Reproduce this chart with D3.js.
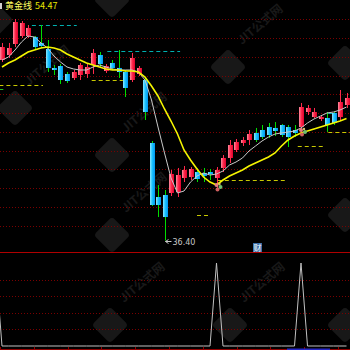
<!DOCTYPE html>
<html>
<head>
<meta charset="utf-8">
<script src="https://cdn.jsdelivr.net/npm/d3@7"></script>
<style>
  html, body { margin: 0; padding: 0; background: #000; }
  svg { display: block; }
</style>
</head>
<body>
<div class="chart"></div>
<script>
// bar data (index 0 = left-most bar)
var opens = [63.12, 63.86, 65.49, 66.67, 66.67, 66.52, 65.64, 64.75, 61.94, 62.23,
  61.05, 60.46, 60.90, 61.05, 62.38, 63.86, 61.49, 62.68, 61.94, 61.34,
  60.16, 61.05, 60.16, 50.84, 42.84, 43.14, 43.44, 43.58, 45.66, 45.80,
  46.54, 46.40, 46.54, 45.66, 47.14, 48.62, 49.80, 50.84, 51.28, 52.32,
  52.76, 53.20, 53.06, 53.50, 53.20, 52.76, 53.20, 55.42, 54.68, 54.39,
  54.54, 55.28, 54.68, 56.46];
var closes = [65.04, 64.90, 68.74, 68.60, 67.86, 65.04, 65.19, 61.94, 61.64, 60.16,
  60.01, 61.34, 62.38, 62.08, 64.16, 62.53, 62.23, 61.94, 61.34, 58.98,
  63.42, 61.94, 55.42, 41.66, 41.66, 39.88, 46.25, 46.10, 46.84, 46.99,
  45.51, 45.95, 46.25, 46.84, 48.62, 50.54, 50.98, 51.28, 52.17, 51.28,
  51.72, 52.02, 52.61, 52.02, 51.72, 52.32, 56.16, 56.02, 55.42, 54.68,
  53.50, 53.80, 56.90, 57.50];
var highs = [65.64, 65.64, 69.19, 68.89, 68.30, 66.67, 68.30, 66.08, 62.38, 62.53,
  61.34, 61.64, 62.68, 62.53, 64.75, 64.30, 62.53, 63.12, 64.60, 61.64,
  64.16, 62.23, 60.46, 51.13, 44.62, 43.88, 46.84, 47.14, 47.43, 47.28,
  47.14, 47.14, 46.99, 47.28, 49.06, 51.28, 51.43, 51.72, 52.76, 53.06,
  53.50, 53.80, 53.94, 53.65, 53.50, 53.50, 56.76, 56.46, 56.02, 54.98,
  55.42, 55.42, 58.68, 58.24];
var lows = [62.82, 63.42, 65.04, 66.38, 66.38, 64.75, 64.90, 61.34, 60.90, 59.57,
  59.72, 60.16, 60.16, 60.46, 61.05, 61.94, 61.20, 61.64, 60.46, 57.64,
  59.86, 60.75, 54.24, 41.51, 39.88, 36.40, 42.99, 42.84, 45.06, 45.36,
  45.06, 45.06, 45.36, 44.18, 46.54, 47.88, 49.50, 50.39, 50.54, 50.98,
  51.43, 51.58, 51.87, 51.72, 50.24, 51.72, 52.32, 54.98, 54.54, 54.09,
  52.46, 53.50, 54.24, 56.02];

// thin white line and the yellow "黄金线"
var whiteLine = [63.12, 63.56, 64.60, 65.78, 66.67, 66.52, 65.64, 64.90, 63.71, 62.82,
  62.08, 61.79, 61.64, 61.64, 62.08, 62.38, 62.08, 61.79, 61.64, 61.64,
  61.64, 61.34, 60.16, 57.20, 53.20, 49.36, 45.66, 43.44, 43.73, 45.06,
  45.95, 46.40, 46.10, 46.25, 46.69, 47.58, 48.02, 48.62, 49.65, 50.39,
  51.13, 51.72, 52.17, 52.32, 52.46, 52.61, 53.06, 53.80, 54.39, 54.83,
  55.28, 55.42, 55.72, 56.16];
var goldLine = [62.08, 62.68, 63.12, 63.71, 64.30, 64.60, 64.90, 65.04, 64.90, 64.60,
  64.01, 63.56, 63.12, 62.68, 62.38, 62.08, 61.79, 61.64, 61.64, 61.49,
  61.49, 61.34, 60.60, 59.27, 57.79, 55.87, 54.09, 52.17, 49.80, 48.32,
  46.99, 45.80, 45.06, 44.62, 45.36, 45.95, 46.40, 46.84, 47.43, 47.88,
  48.32, 48.76, 49.36, 50.39, 51.28, 51.87, 52.32, 52.61, 52.91, 53.20,
  53.50, 53.80, 54.09, 54.47];

// support / pressure levels: price and the bar span they cover
var cyanLevels = [
  { price: 68.30, from: 4.6, to: 11.5 },
  { price: 64.45, from: 16.2, to: 27.4 },
  { price: 55.28, from: 50.2, to: 51.5 }
];
var yellowLevels = [
  { price: 59.42, from: -0.4, to: 6.3 },
  { price: 60.16, from: 13.8, to: 18.6 },
  { price: 40.18, from: 30.0, to: 31.7 },
  { price: 45.36, from: 33.2, to: 43.5 },
  { price: 50.39, from: 45.5, to: 49.7 },
  { price: 52.46, from: 50.2, to: 53.6 }
];
var greenLevels = [{ price: 58.83, from: -0.4, to: 0.2 }];

// lower panel signal, first value is the bar just off the left edge
var signalStart = -1;
var signal = [1,
  0, 0, 0, 0, 0, 0, 0, 0, 0, 0,
  0, 0, 0, 0, 0, 0, 0, 0, 0, 0,
  0, 0, 0, 0, 0, 0, 0, 0, 0, 0,
  0, 0, 0, 1, 0, 0, 0, 0, 0, 0,
  0, 0, 0, 0, 0, 0, 1, 0, 0, 0,
  0, 0, 0, 0];

var titleName = "黄金线";
var titleValue = "54.47";
var lowLabel = "36.40";
var watermarkText = "JIT公式网";

var width = 350;
var height = 350;

var svg = d3
  .select(".chart")
  .append("svg")
  .attr("width", width)
  .attr("height", height)
  .style("background", "#000");

var defs = svg.append("defs");
var upGrad = defs.append("linearGradient").attr("id", "upGrad");
upGrad.append("stop").attr("offset", "0%").attr("stop-color", "#ff90a4");
upGrad.append("stop").attr("offset", "45%").attr("stop-color", "#ff2a4c");
upGrad.append("stop").attr("offset", "100%").attr("stop-color", "#e0002c");
var downGrad = defs.append("linearGradient").attr("id", "downGrad");
downGrad.append("stop").attr("offset", "0%").attr("stop-color", "#8ee8ff");
downGrad.append("stop").attr("offset", "45%").attr("stop-color", "#1cc4ff");
downGrad.append("stop").attr("offset", "100%").attr("stop-color", "#0096f0");

// scales
var x = d3.scaleLinear().domain([0, 53]).range([2, 346.5]);
var y = d3.scaleLinear().domain([72, 35]).range([0, 250]);
var gridY = d3.scaleLinear().domain([0, 13]).range([0.5, 244.5]);
var yLow = d3.scaleLinear().domain([0, 1]).range([346, 263]);

// faint watermark tiles
var wm = svg.append("g").attr("class", "watermark");
[[15, 108], [112, 155], [228, 67], [345, 63], [112, 235], [345, 215],
 [110, 325], [230, 325], [345, 325], [-5, 20], [112, 0]].forEach(function (p) {
  var g = wm.append("g").attr("transform", "translate(" + p[0] + "," + p[1] + ")");
  g.append("rect")
    .attr("x", -13).attr("y", -13).attr("width", 26).attr("height", 26)
    .attr("rx", 4)
    .attr("transform", "rotate(45)")
    .attr("fill", "#181818");
  g.append("text")
    .attr("transform", "translate(14,-22) rotate(-40)")
    .attr("font-family", "Noto Sans CJK SC")
    .attr("font-size", 12)
    .attr("font-weight", "bold")
    .attr("fill", "#191919")
    .text(watermarkText);
});

// dotted grid
svg.append("g")
  .selectAll("line")
  .data(d3.range(1, 13))
  .enter()
  .append("line")
  .attr("x1", 0).attr("x2", width)
  .attr("y1", (d) => Math.round(gridY(d)) + 0.5)
  .attr("y2", (d) => Math.round(gridY(d)) + 0.5)
  .attr("stroke", "#7a0000")
  .attr("stroke-dasharray", "1,2");

svg.append("g")
  .selectAll("line")
  .data([0.2, 0.4, 0.6, 0.8])
  .enter()
  .append("line")
  .attr("x1", 0).attr("x2", width)
  .attr("y1", (d) => Math.round(yLow(d)) + 0.5)
  .attr("y2", (d) => Math.round(yLow(d)) + 0.5)
  .attr("stroke", "#7a0000")
  .attr("stroke-dasharray", "1,2");

// panel separators
svg.append("line")
  .attr("x1", 0).attr("x2", width).attr("y1", 252.5).attr("y2", 252.5)
  .attr("stroke", "#b00000");
svg.append("line")
  .attr("x1", 0).attr("x2", width).attr("y1", 349.5).attr("y2", 349.5)
  .attr("stroke", "#900000");
svg.append("g")
  .selectAll("line")
  .data(d3.range(0, 11))
  .enter()
  .append("line")
  .attr("x1", (d) => Math.round(d * 33.8) + 0.5)
  .attr("x2", (d) => Math.round(d * 33.8) + 0.5)
  .attr("y1", 347).attr("y2", 350)
  .attr("stroke", "#900000");
svg.append("rect")
  .attr("x", 287).attr("y", 348.5).attr("width", 43).attr("height", 2)
  .attr("fill", "#2828c8");

// dashed levels
function drawLevels(levels, color) {
  svg.append("g")
    .selectAll("line")
    .data(levels)
    .enter()
    .append("line")
    .attr("x1", (d) => x(d.from))
    .attr("x2", (d) => x(d.to))
    .attr("y1", (d) => Math.round(y(d.price)) + 0.5)
    .attr("y2", (d) => Math.round(y(d.price)) + 0.5)
    .attr("stroke", color)
    .attr("stroke-dasharray", "4,3");
}
drawLevels(cyanLevels, "#00b0b0");
drawLevels(yellowLevels, "#c8c800");
drawLevels(greenLevels, "#20c020");

// candles
var bars = d3.range(opens.length).map((i) => ({
  i: i,
  o: opens[i],
  c: closes[i],
  h: highs[i],
  l: lows[i],
  up: closes[i] >= opens[i]
}));

var candles = svg.append("g").attr("class", "candles");

candles
  .selectAll(".wick")
  .data(bars)
  .enter()
  .append("line")
  .attr("class", "wick")
  .attr("x1", (d) => Math.round(x(d.i)) + 0.5)
  .attr("x2", (d) => Math.round(x(d.i)) + 0.5)
  .attr("y1", (d) => y(d.h))
  .attr("y2", (d) => y(d.l))
  .attr("stroke", (d) => (d.up ? "#ff2a4c" : "#00dd00"));

candles
  .selectAll(".body")
  .data(bars)
  .enter()
  .append("rect")
  .attr("class", "body")
  .attr("x", (d) => Math.round(x(d.i)) - 2)
  .attr("width", 5)
  .attr("y", (d) => y(Math.max(d.o, d.c)))
  .attr("height", (d) => Math.max(1, Math.abs(y(d.o) - y(d.c))))
  .attr("fill", (d) => (d.up ? "url(#upGrad)" : "url(#downGrad)"));

// moving lines
var line = d3
  .line()
  .x((d, i) => x(i))
  .y((d) => y(d));

svg.append("path")
  .datum(whiteLine)
  .attr("d", line)
  .attr("fill", "none")
  .attr("stroke", "#c8c8c8")
  .attr("stroke-width", 1);

svg.append("path")
  .datum(goldLine)
  .attr("d", line)
  .attr("fill", "none")
  .attr("stroke", "#f4f400")
  .attr("stroke-width", 1.6);

// signal markers under the bars where the lower indicator fires
var fired = [];
signal.forEach(function (v, k) {
  var i = k + signalStart;
  if (v > 0 && i >= 0) fired.push(i);
});
var marks = svg.append("g").selectAll("g")
  .data(fired)
  .enter()
  .append("g")
  .attr("transform", (i) => "translate(" + (x(i) + 2) + "," + (y(lows[i]) - 1) + ")");
marks.append("circle").attr("cx", -2).attr("cy", -2).attr("r", 2).attr("fill", "#e88080");
marks.append("circle").attr("cx", 2).attr("cy", 0).attr("r", 2).attr("fill", "#70c070");
marks.append("circle").attr("cx", -1).attr("cy", 2.5).attr("r", 2).attr("fill", "#d06060");
marks.append("circle").attr("cx", 1).attr("cy", -3).attr("r", 1.2).attr("fill", "#d8c070");

// lowest price label
var lowIdx = d3.minIndex(lows);
var lowG = svg.append("g")
  .attr("transform", "translate(" + (Math.round(x(lowIdx)) + 0.5) + "," + Math.round(y(lows[lowIdx])) + ")");
lowG.append("line")
  .attr("x1", 0).attr("x2", 6).attr("y1", 0.5).attr("y2", 0.5)
  .attr("stroke", "#c8c8c8");
lowG.append("path")
  .attr("d", "M0,0.5L3,-1.5M0,0.5L3,2.5")
  .attr("stroke", "#c8c8c8")
  .attr("fill", "none");
lowG.append("text")
  .attr("x", 7)
  .attr("y", 3.5)
  .attr("font-family", "DejaVu Sans")
  .attr("font-size", 8)
  .attr("fill", "#c8c8c8")
  .text(lowLabel);

// lower panel signal line
var sigLine = d3
  .line()
  .x((d, k) => x(k + signalStart))
  .y((d) => yLow(d));

svg.append("path")
  .datum(signal)
  .attr("d", sigLine)
  .attr("fill", "none")
  .attr("stroke", "#c0c0c0")
  .attr("stroke-width", 1);

// "财" badge
var badge = svg.append("g").attr("transform", "translate(253,243)");
badge.append("rect").attr("width", 9).attr("height", 9).attr("fill", "#3a6ea8");
badge.append("text")
  .attr("x", 4.5).attr("y", 7.5)
  .attr("text-anchor", "middle")
  .attr("font-family", "Noto Sans CJK SC")
  .attr("font-size", 8)
  .attr("fill", "#fff")
  .text("财");

// title
var title = svg.append("text")
  .attr("x", 5)
  .attr("y", 9)
  .attr("font-family", "Noto Sans CJK SC")
  .attr("font-size", 9);
title.append("tspan").attr("fill", "#ffff60").text(titleName);
title.append("tspan").attr("dx", 3).attr("fill", "#e8e800").text(titleValue);
svg.append("rect").attr("x", 0).attr("y", 3).attr("width", 2).attr("height", 6).attr("fill", "#d0d0d0");
</script>
</body>
</html>
